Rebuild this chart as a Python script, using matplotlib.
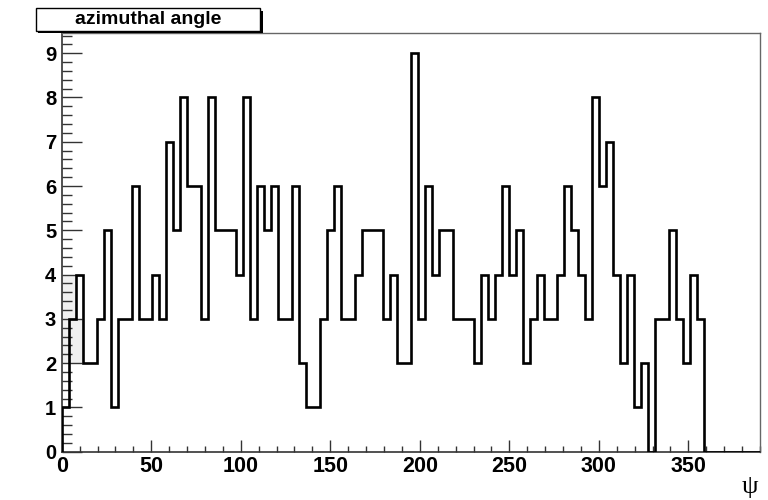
import numpy as np
import matplotlib
matplotlib.use("Agg")
import matplotlib.pyplot as plt
from matplotlib.patches import Rectangle
from matplotlib.ticker import MultipleLocator

# ---- data ----
title = "azimuthal angle"
x_label = "ψ"
x_min, x_max, n_bins = 0.0, 390.0, 100
counts = [1, 3, 4, 2, 2, 3, 5, 1, 3, 3,
          6, 3, 3, 4, 3, 7, 5, 8, 6, 6,
          3, 8, 5, 5, 5, 4, 8, 3, 6, 5,
          6, 3, 3, 6, 2, 1, 1, 3, 5, 6,
          3, 3, 4, 5, 5, 5, 3, 4, 2, 2,
          9, 3, 6, 4, 5, 5, 3, 3, 3, 2,
          4, 3, 4, 6, 4, 5, 2, 3, 4, 3,
          3, 4, 6, 5, 4, 3, 8, 6, 7, 4,
          2, 4, 1, 2, 0, 3, 3, 5, 3, 2,
          4, 3, 0, 0, 0, 0, 0, 0, 0, 0]
y_max = 9.45
x_major = [0, 50, 100, 150, 200, 250, 300, 350]
y_major = [0, 1, 2, 3, 4, 5, 6, 7, 8, 9]
# light-grey shaded patch near the origin: (y_low, y_high, number of bins covered)
shade = [(2, 3, 3), (3, 4, 2)]

edges = np.linspace(x_min, x_max, n_bins + 1)

fig = plt.figure(figsize=(7.68, 5.0), dpi=100, facecolor="white")
ax = fig.add_axes([61.7 / 768, 48.3 / 500, (760 - 61.7) / 768, (451.7 - 33.3) / 500])

for ylo, yhi, nb in shade:
    ax.fill_betweenx([ylo, yhi], edges[0], edges[nb], color="#f0f0f0", lw=0, zorder=1)

ax.stairs(counts, edges, color="black", lw=1.9, baseline=0, zorder=3)

ax.set_xlim(x_min, x_max)
ax.set_ylim(0, y_max)
ax.set_xticks(x_major)
ax.set_yticks(y_major)
ax.xaxis.set_minor_locator(MultipleLocator(10))
ax.yaxis.set_minor_locator(MultipleLocator(0.2))

ax.set_xticklabels([str(v) for v in x_major], family="Liberation Sans", weight="bold", size=15.5)
ax.set_yticklabels([str(v) for v in y_major], family="Liberation Sans", weight="bold", size=14.5)

ax.tick_params(axis="x", which="major", direction="in", length=8.6, width=1, pad=3, top=False, color="#333333")
ax.tick_params(axis="x", which="minor", direction="in", length=4.5, width=1, top=False, color="#333333")
ax.tick_params(axis="y", which="major", direction="in", length=14.4, width=1, pad=4, right=False, color="#333333")
ax.tick_params(axis="y", which="minor", direction="in", length=7.2, width=1, right=False, color="#333333")

for s in ["left", "bottom"]:
    ax.spines[s].set_color("#333333")
    ax.spines[s].set_linewidth(1.2)
for s in ["top", "right"]:
    ax.spines[s].set_color("#666666")
    ax.spines[s].set_linewidth(1.0)

# x-axis title (psi) at the right end below labels
fig.text(750 / 768, 1 - 487 / 500, x_label, ha="center", va="center",
         fontsize=19, family=["Liberation Serif", "DejaVu Serif"])

# title box with shadow (ROOT TPaveText style)
bx0, bx1, by0, by1 = 35.7, 260.0, 8.3, 30.7
W, H = 768.0, 500.0
shadow = Rectangle((bx0 / W + 2.5 / W, 1 - by1 / H - 2.5 / H), (bx1 - bx0) / W, (by1 - by0) / H,
                   transform=fig.transFigure, facecolor="black", edgecolor="black", lw=0, zorder=5)
box = Rectangle((bx0 / W, 1 - by1 / H), (bx1 - bx0) / W, (by1 - by0) / H,
                transform=fig.transFigure, facecolor="white", edgecolor="black", lw=1.0, zorder=6)
fig.patches.extend([shadow, box])
fig.text((bx0 + bx1) / 2 / W, 1 - (by0 + by1) / 2 / H, title, ha="center", va="center",
         family="Liberation Sans", weight="bold", fontsize=14, zorder=7)

fig.savefig("out.png", dpi=100, facecolor="white")
